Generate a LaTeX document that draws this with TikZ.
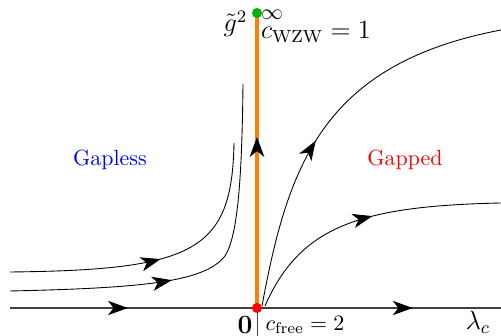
\documentclass[tikz,border=0pt]{standalone}
\usepackage{amsmath,amssymb}
\usetikzlibrary{arrows.meta,decorations.markings}

\begin{document}
\begin{tikzpicture}[x=0.16mm, y=0.16mm,
	flow/.style={postaction={decorate, decoration={markings, mark=at position #1 with {\arrow[black]{Stealth[length=9pt, width=6.5pt, inset=2.5pt]}}}}},
	dot/.style={circle, inner sep=0pt, minimum size=4.6pt}]
	\useasboundingbox (0,0) rectangle (501,336);
	% axes
	\draw[black!75] (257,28) -- (257,0);
	\draw[black!75, line width=0.7pt, flow=0.24, flow=0.82] (10,28) -- (501,28);
	\draw[orange, line width=1.5pt, flow=0.58] (257,28) -- (257,323);
	% flows on the gapless side
	\draw[flow=0.5] (10,64) .. controls (195,66) and (232,85) .. (234,193);
	\draw[flow=0.41] (10,45) .. controls (150,48) and (205,55) .. (225,80) .. controls (238,100) and (242,160) .. (243,252);
	% flows on the gapped side
	\draw[flow=0.44] (262,30) .. controls (288,170) and (322,272) .. (501,306);
	\draw[flow=0.53] (265,30) .. controls (300,110) and (360,130) .. (501,133);
	% fixed points
	\node[dot, fill=red] (free) at (257,28) {};
	\node[dot, fill=green!70!black] (wzw) at (257,323) {};
	% labels
	\node (zero) at (245,11) {\large$\mathbf{0}$};
	\node (cfree) at (305,11) {$c_{\rm free}=2$};
	\node (lam) at (478,14) {\large $\lambda_c$};
	\node[anchor=east, inner sep=1pt] (gsq) at (250,312) {\large$\tilde{g}^2$};
	\node (inf) at (272,321) {$\infty$};
	\node (cwzw) at (316,304) {\large$c_{\rm WZW}=1$};
	\node[blue] (gapless) at (110,176) {Gapless};
	\node[red] (gapped) at (405,176) {Gapped};
\end{tikzpicture}
\end{document}
